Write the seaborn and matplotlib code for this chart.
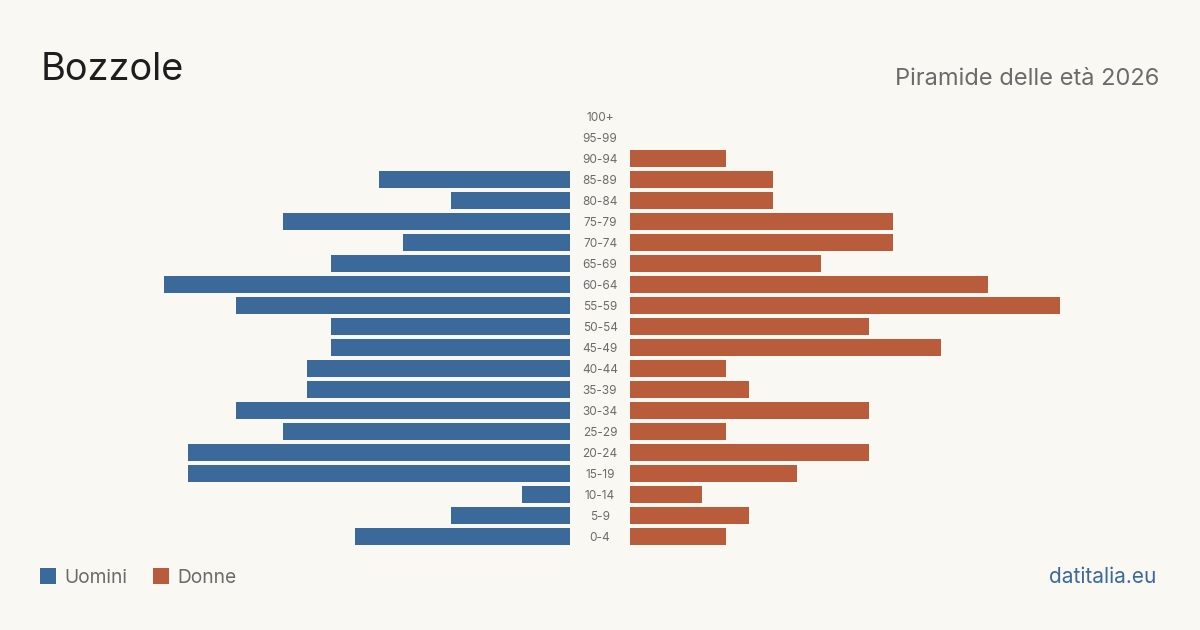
import matplotlib
matplotlib.use("Agg")
import matplotlib.pyplot as plt
import seaborn as sns
import pandas as pd
from matplotlib.patches import Rectangle

age_groups = ["100+", "95-99", "90-94", "85-89", "80-84", "75-79", "70-74", "65-69",
              "60-64", "55-59", "50-54", "45-49", "40-44", "35-39", "30-34", "25-29",
              "20-24", "15-19", "10-14", "5-9", "0-4"]
uomini = [0, 0, 0, 8, 5, 12, 7, 10, 17, 14, 10, 10, 11, 11, 14, 12, 16, 16, 2, 5, 9]
donne = [0, 0, 4, 6, 6, 11, 11, 8, 15, 18, 10, 13, 4, 5, 10, 4, 10, 7, 3, 5, 4]

title = "Bozzole"
subtitle = "Piramide delle età 2026"
legend_labels = ["Uomini", "Donne"]
source = "datitalia.eu"

BG = "#f9f8f3"
BLUE = "#3b6a9a"
ORANGE = "#b95c3c"
GREY = "#6b6b6b"

sns.set_theme(style="white")
plt.rcParams["font.family"] = ["Inter", "DejaVu Sans"]

df = pd.DataFrame({"age": age_groups, "Uomini": uomini, "Donne": donne})

W, H = 1200, 630
fig = plt.figure(figsize=(12, 6.3), dpi=100, facecolor=BG)

top_px, bot_px = 106.0, 547.0
ax_b = (H - bot_px) / H
ax_h = (bot_px - top_px) / H
axL = fig.add_axes([140 / W, ax_b, 430 / W, ax_h])
axR = fig.add_axes([630 / W, ax_b, 430 / W, ax_h])

sns.barplot(data=df, y="age", x="Uomini", order=age_groups, color=BLUE,
            orient="h", width=0.8, ax=axL, saturation=1, linewidth=0, edgecolor="none")
sns.barplot(data=df, y="age", x="Donne", order=age_groups, color=ORANGE,
            orient="h", width=0.8, ax=axR, saturation=1, linewidth=0, edgecolor="none")

vmax = 18
axL.set_xlim(vmax, 0)
axR.set_xlim(0, vmax)
for ax in (axL, axR):
    ax.set_ylim(len(age_groups) - 0.5, -0.5)
    ax.set_facecolor("none")
    ax.set_xlabel("")
    ax.set_ylabel("")
    ax.set_xticks([])
    ax.set_yticks([])
    for s in ax.spines.values():
        s.set_visible(False)

# center age labels
for i, lab in enumerate(age_groups):
    y_px = 117.8 + 21 * i
    fig.text(600 / W, 1 - y_px / H, lab, ha="center", va="center",
             fontsize=8.5, color=GREY)

fig.text(41 / W, 1 - 80 / H, title, fontsize=27.3, color="#1e1e1e", ha="left", va="baseline")
fig.text(1159 / W, 1 - 85 / H, subtitle, fontsize=17, color=GREY, ha="right", va="baseline")

# legend
for x0, col, lab in [(40, BLUE, legend_labels[0]), (153, ORANGE, legend_labels[1])]:
    fig.patches.append(Rectangle((x0 / W, 1 - 584 / H), 16 / W, 16 / H,
                                 transform=fig.transFigure, facecolor=col, edgecolor="none"))
    fig.text((x0 + 24) / W, 1 - 583 / H, lab, fontsize=13.8, color=GREY,
             ha="left", va="baseline")

fig.text(1156 / W, 1 - 583 / H, source, fontsize=15, color=BLUE, ha="right", va="baseline")

fig.savefig("out.png", dpi=100, facecolor=BG)
